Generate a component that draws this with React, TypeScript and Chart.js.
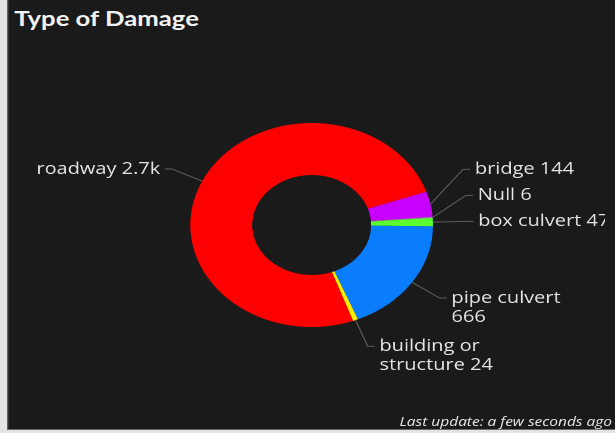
import React, { useEffect, useRef } from 'react';
import { Chart, registerables } from 'chart.js';

Chart.register(...registerables);

// ---- data ----
const categories = ['roadway', 'bridge', 'Null', 'box culvert', 'pipe culvert', 'building or structure'];
const values = [2700, 144, 6, 47, 666, 24];
const labelTexts = ['roadway 2.7k', 'bridge 144', 'Null 6', 'box culvert 47', 'pipe culvert\n666', 'building or\nstructure 24'];
const sliceColors = ['#ff0000', '#c800ff', '#9a9a9a', '#5cff2e', '#0a7dff', '#ffee00'];
const titleText = 'Type of Damage';
const footerText = 'Last update: a few seconds ago';

const STRETCH = 615 / 517;
const LABEL_FONT = '16.8px "Open Sans", sans-serif';
const LINE_H = 19;

const outLabelsPlugin = {
  id: 'outLabels',
  afterDatasetsDraw(chart: any) {
    const meta = chart.getDatasetMeta(0);
    const ctx: CanvasRenderingContext2D = chart.ctx;
    const extra = 28;
    const items = meta.data.map((arc: any, i: number) => {
      const p = arc.getProps(['x', 'y', 'startAngle', 'endAngle', 'outerRadius'], true);
      const mid = (p.startAngle + p.endAngle) / 2;
      const cos = Math.cos(mid);
      const sin = Math.sin(mid);
      return {
        i,
        ax: p.x + p.outerRadius * cos,
        ay: p.y + p.outerRadius * sin,
        ex: p.x + (p.outerRadius + extra) * cos,
        ly: p.y + (p.outerRadius + extra) * sin,
        right: cos >= 0,
        lines: labelTexts[i].split('\n'),
      };
    });
    const resolve = (side: any[]) => {
      side.sort((a, b) => a.ly - b.ly);
      for (let k = side.length - 2; k >= 0; k--) {
        const maxY = side[k + 1].ly - (side[k].lines.length * LINE_H + 7);
        if (side[k].ly > maxY) side[k].ly = maxY;
      }
    };
    resolve(items.filter((d: any) => d.right));
    resolve(items.filter((d: any) => !d.right));

    ctx.save();
    ctx.font = LABEL_FONT;
    ctx.textBaseline = 'middle';
    items.forEach((d: any) => {
      const dir = d.right ? 1 : -1;
      ctx.strokeStyle = '#5e5e5e';
      ctx.lineWidth = 1;
      ctx.beginPath();
      ctx.moveTo(d.ax, d.ay);
      ctx.lineTo(d.ex, d.ly);
      ctx.lineTo(d.ex + dir * 6, d.ly);
      ctx.stroke();
      ctx.fillStyle = '#e4e4e4';
      ctx.textAlign = d.right ? 'left' : 'right';
      d.lines.forEach((t: string, j: number) => {
        ctx.fillText(t, d.ex + dir * 10, d.ly + j * LINE_H);
      });
    });
    ctx.restore();
  },
};

function DonutChart() {
  const ref = useRef<HTMLCanvasElement | null>(null);
  useEffect(() => {
    if (!ref.current) return;
    const chart = new Chart(ref.current, {
      type: 'doughnut',
      data: {
        labels: categories,
        datasets: [
          {
            data: values,
            backgroundColor: sliceColors,
            borderWidth: 0,
          },
        ],
      },
      options: {
        responsive: true,
        maintainAspectRatio: false,
        animation: false,
        devicePixelRatio: 2,
        rotation: 160,
        cutout: '49%',
        layout: { padding: { left: 160, right: 145, top: 123, bottom: 106 } },
        plugins: {
          legend: { display: false },
          tooltip: { enabled: false },
        },
      },
      plugins: [outLabelsPlugin],
    } as any);
    return () => chart.destroy();
  }, []);
  return (
    <div style={{ position: 'absolute', left: 0, top: 0, width: 509, height: 433 }}>
      <canvas ref={ref} />
    </div>
  );
}

export default function App() {
  return (
    <div
      style={{
        position: 'fixed',
        left: 0,
        top: 0,
        width: 517,
        height: 433,
        transform: `scaleX(${STRETCH})`,
        transformOrigin: '0 0',
        background: '#e3e3e3',
        overflow: 'hidden',
      }}
    >
      <div
        style={{
          position: 'absolute',
          left: 5.5,
          top: 0,
          right: 0,
          bottom: 3,
          background: '#1a1a1a',
          borderLeft: '1px solid #6a6a6a',
          borderBottom: '1px solid #6a6a6a',
        }}
      />
      <div
        style={{
          position: 'absolute',
          left: 12,
          top: 5,
          font: 'bold 21.6px Lato, sans-serif',
          lineHeight: '26px',
          color: '#f2f2f2',
          whiteSpace: 'nowrap',
        }}
      >
        {titleText}
      </div>
      <DonutChart />
      <div
        style={{
          position: 'absolute',
          right: 2.5,
          top: 413,
          font: 'italic 13px "Open Sans", sans-serif',
          lineHeight: '16px',
          color: '#e6e6e6',
          whiteSpace: 'nowrap',
        }}
      >
        {footerText}
      </div>
    </div>
  );
}
